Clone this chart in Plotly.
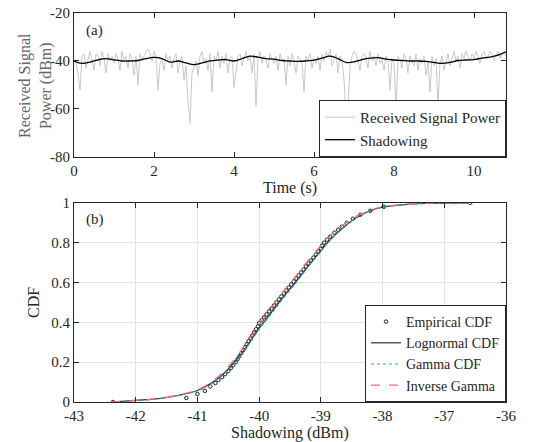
import plotly.graph_objects as go

# Data -----------------------------------------------------------------------------------------------

# (a) received signal, sampled every 0.05 s
sig_dt = 0.05
signal_dbm = [
    -40, -41, -45, -52, -38, -37, -43, -39, -36, -40, -44, -37, -38, -42, -36, -39, -45, -37, -40, -38,
    -41, -37, -39, -44, -36, -40, -38, -43, -37, -39, -46, -38, -50, -37, -40, -38, -36, -35, -37, -40,
    -36, -38, -52, -41, -39, -44, -37, -40, -38, -43, -39, -37, -45, -40, -38, -48, -42, -57, -66, -45,
    -42, -40, -46, -38, -36, -41, -39, -44, -37, -53, -38, -40, -36, -43, -38, -41, -37, -45, -39, -38,
    -51, -44, -38, -37, -42, -39, -36, -40, -38, -45, -37, -59, -39, -36, -41, -38, -40, -43, -37, -39,
    -41, -38, -44, -37, -40, -39, -50, -38, -42, -37, -40, -45, -38, -39, -41, -53, -38, -40, -37, -43,
    -39, -41, -38, -44, -37, -40, -36, -38, -35, -42, -39, -37, -45, -38, -40, -48, -63, -60, -42, -38,
    -36, -37, -40, -44, -38, -37, -39, -43, -36, -40, -38, -42, -37, -41, -39, -44, -38, -40, -52, -39,
    -41, -59, -38, -40, -43, -37, -39, -45, -38, -40, -42, -37, -44, -39, -41, -38, -46, -40, -53, -38,
    -42, -39, -59, -41, -38, -44, -40, -37, -42, -39, -36, -40, -38, -43, -37, -39, -36, -38, -40, -37,
    -39, -36, -38, -41, -37, -36, -39, -38, -36, -37, -40, -38, -36, -39, -37, -36, -38,
]
sig_time = [round(i * sig_dt, 2) for i in range(len(signal_dbm))]

# (a) shadowing, every 0.2 s
shad_time = [round(i * 0.2, 1) for i in range(55)]
shadow_dbm = [
    -40, -41, -40.5, -39.5, -39, -39.5, -40, -40, -39.8, -39, -38.5, -39, -40.5, -40, -40.8, -41.5,
    -40.8, -40, -39.6, -39.4, -40, -39, -38, -38.4, -39, -39.2, -39.8, -40, -40.2, -40, -39.6, -38.8,
    -38, -39, -40.6, -40.4, -39.4, -38.8, -38.6, -39.2, -39.6, -39.8, -40, -40, -40.2, -40.6, -41,
    -40.6, -39.8, -39.6, -39.4, -38.8, -38.4, -37.6, -36.2,
]

# (b) empirical cdf
emp_x = [-42.37, -41.18, -41.0, -40.88, -40.79, -40.71,
         -40.66, -40.6, -40.55, -40.5, -40.46, -40.42, -40.38, -40.35, -40.32, -40.29,
         -40.26, -40.23, -40.2, -40.17, -40.14, -40.11, -40.08, -40.05, -40.02, -40.0,
         -39.96, -39.92, -39.88, -39.84, -39.8, -39.76, -39.72, -39.68, -39.64, -39.6,
         -39.56, -39.52, -39.48, -39.44, -39.4, -39.36, -39.32, -39.28, -39.24, -39.2,
         -39.16, -39.12, -39.08, -39.04, -39.0, -38.98, -38.95,
         -38.9, -38.85, -38.78, -38.72, -38.66, -38.58, -38.48, -38.36, -38.2, -37.98, -36.58]
emp_y = [0.0, 0.02, 0.04, 0.056, 0.078, 0.095,
         0.11, 0.125, 0.14, 0.155, 0.17, 0.185, 0.2, 0.215, 0.23, 0.245,
         0.26, 0.275, 0.29, 0.305, 0.32, 0.335, 0.35, 0.365, 0.38, 0.395,
         0.41, 0.425, 0.44, 0.455, 0.47, 0.485, 0.5, 0.515, 0.53, 0.545,
         0.56, 0.575, 0.59, 0.605, 0.62, 0.635, 0.65, 0.665, 0.68, 0.695,
         0.71, 0.725, 0.74, 0.755, 0.77, 0.785, 0.8,
         0.815, 0.83, 0.85, 0.865, 0.88, 0.9, 0.92, 0.94, 0.96, 0.98, 1.0]

# (b) fitted cdfs
fit_x = [-42.4, -42.0, -41.6, -41.3, -41.0, -40.8, -40.6, -40.4, -40.2, -40.0, -39.8, -39.6,
         -39.4, -39.2, -39.0, -38.8, -38.6, -38.4, -38.2, -38.0, -37.6, -37.2, -36.6]
logn_y = [0.0, 0.008, 0.018, 0.034, 0.058, 0.09, 0.135, 0.2, 0.28, 0.37, 0.45, 0.53,
          0.605, 0.685, 0.76, 0.83, 0.885, 0.93, 0.96, 0.978, 0.992, 0.998, 1.0]
gamma_y = [0.0, 0.007, 0.017, 0.033, 0.056, 0.087, 0.131, 0.195, 0.274, 0.364, 0.444, 0.524,
           0.6, 0.681, 0.757, 0.828, 0.884, 0.93, 0.96, 0.978, 0.992, 0.998, 1.0]
invg_y = [0.0, 0.008, 0.019, 0.036, 0.061, 0.095, 0.145, 0.215, 0.298, 0.39, 0.475, 0.558,
          0.635, 0.713, 0.785, 0.848, 0.898, 0.937, 0.964, 0.98, 0.993, 0.998, 1.0]

# tick labels (plain hyphen like the original)
t_ticks = [0, 2, 4, 6, 8, 10]
p_ticks = [-80, -60, -40, -20]
s_ticks = [-43, -42, -41, -40, -39, -38, -37, -36]
c_ticks = [0, 0.2, 0.4, 0.6, 0.8, 1]

# FIGURE ---------------------------------------------------------------------------------------------

font = "Liberation Serif"
ink = "#262626"

fig = go.Figure()

fig.add_trace(go.Scatter(x=sig_time, y=signal_dbm, mode="lines", name="Received Signal Power",
                         line=dict(color="#c8c8c8", width=1), legend="legend", xaxis="x", yaxis="y"))
fig.add_trace(go.Scatter(x=shad_time, y=shadow_dbm, mode="lines", name="Shadowing", line_shape="spline",
                         line=dict(color="black", width=1.3), legend="legend", xaxis="x", yaxis="y"))

fig.add_trace(go.Scatter(x=emp_x, y=emp_y, mode="markers", name="Empirical CDF",
                         marker=dict(symbol="circle-open", size=3.5, color="#222", line=dict(width=1)),
                         legend="legend2", xaxis="x2", yaxis="y2"))
fig.add_trace(go.Scatter(x=fit_x, y=logn_y, mode="lines", name="Lognormal CDF", line_shape="spline",
                         line=dict(color="#333", width=1.2), legend="legend2", xaxis="x2", yaxis="y2"))
fig.add_trace(go.Scatter(x=fit_x, y=gamma_y, mode="lines", name="Gamma CDF", line_shape="spline",
                         line=dict(color="#2f9fe0", width=1.2, dash="dot"), legend="legend2", xaxis="x2", yaxis="y2"))
fig.add_trace(go.Scatter(x=fit_x, y=invg_y, mode="lines", name="Inverse Gamma", line_shape="spline",
                         line=dict(color="#FF6B6B", width=1.2, dash="dash"), legend="legend2", xaxis="x2", yaxis="y2"))

axis_style = dict(showline=True, linecolor=ink, linewidth=1, mirror="allticks", ticks="inside",
                  ticklen=5, tickcolor=ink, tickfont=dict(family=font, size=15, color=ink),
                  zeroline=False, automargin=False)

fig.update_layout(
    width=536, height=442,
    margin=dict(l=74, r=30, t=13, b=40),
    paper_bgcolor="white", plot_bgcolor="white",
    font=dict(family=font, size=15, color=ink),
    xaxis=dict(axis_style, domain=[0, 1], anchor="y", range=[0, 10.8], showgrid=False,
               tickvals=t_ticks, ticktext=[str(v) for v in t_ticks]),
    yaxis=dict(axis_style, domain=[0.63, 1], anchor="x", range=[-80, -20], showgrid=False,
               tickvals=p_ticks, ticktext=[str(v) for v in p_ticks]),
    xaxis2=dict(axis_style, domain=[0, 1], anchor="y2", range=[-43, -36], showgrid=True,
                gridcolor="#e3e3e3", tickvals=s_ticks, ticktext=[str(v) for v in s_ticks]),
    yaxis2=dict(axis_style, domain=[0, 0.512], anchor="x2", range=[0, 1], showgrid=True,
                gridcolor="#e3e3e3", tickvals=c_ticks, ticktext=[str(v) for v in c_ticks]),
    legend=dict(x=1, y=0.63, xanchor="right", yanchor="bottom", bgcolor="white",
                bordercolor=ink, borderwidth=1, font=dict(family=font, size=15, color=ink),
                tracegroupgap=0, itemwidth=30),
    legend2=dict(x=1, y=0, xanchor="right", yanchor="bottom", bgcolor="white",
                 bordercolor=ink, borderwidth=1, font=dict(family=font, size=14, color=ink),
                 tracegroupgap=0, itemwidth=30),
    showlegend=True,
    annotations=[
        dict(text="(a)", x=0.023, y=0.956, xref="paper", yref="paper", xanchor="left", yanchor="middle",
             showarrow=False, font=dict(family=font, size=15, color=ink)),
        dict(text="(b)", x=0.023, y=0.47, xref="paper", yref="paper", xanchor="left", yanchor="middle",
             showarrow=False, font=dict(family=font, size=15, color=ink)),
        dict(text="Time (s)", x=0.5, y=0.551, xref="paper", yref="paper", xanchor="center", yanchor="middle",
             showarrow=False, font=dict(family=font, size=16, color=ink)),
        dict(text="Shadowing (dBm)", x=0.5, y=-0.08, xref="paper", yref="paper", xanchor="center",
             yanchor="middle", showarrow=False, font=dict(family=font, size=16, color=ink)),
        dict(text="Received Signal<br>Power (dBm)", x=-0.088, y=0.815, xref="paper", yref="paper",
             xanchor="center", yanchor="middle", textangle=-90, showarrow=False,
             font=dict(family=font, size=16, color="#666")),
        dict(text="CDF", x=-0.095, y=0.257, xref="paper", yref="paper", xanchor="center", yanchor="middle",
             textangle=-90, showarrow=False, font=dict(family=font, size=16, color=ink)),
    ],
)

# drop the default page margin so the figure sits at the window's top-left corner
fig.write_html("out.html", config={"displayModeBar": False},
               post_script="document.body.style.margin='0';")
